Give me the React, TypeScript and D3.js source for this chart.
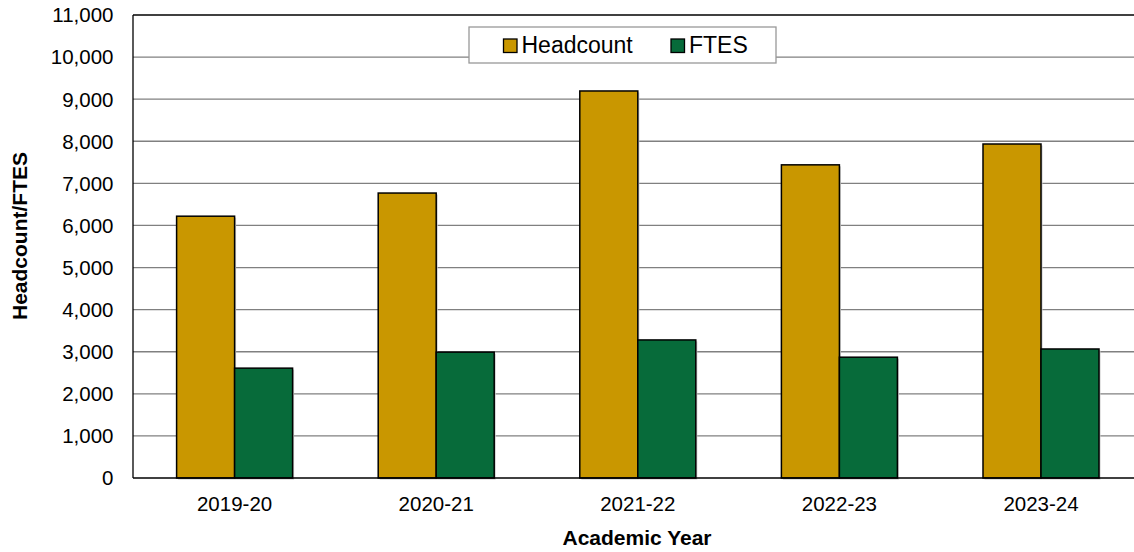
import React from "react";
import * as d3 from "d3";

const categories = ["2019-20", "2020-21", "2021-22", "2022-23", "2023-24"];
const headcount = [6220, 6770, 9195, 7440, 7935];
const ftes = [2610, 2990, 3280, 2870, 3065];
const seriesNames = ["Headcount", "FTES"];
const seriesColors = ["#C99700", "#076B3A"];
const yTicks = [0, 1000, 2000, 3000, 4000, 5000, 6000, 7000, 8000, 9000, 10000, 11000];

export default function App() {
  const W = 1134, H = 552;
  const left = 133, top = 15, bottom = 478;
  const x = d3.scaleBand<string>().domain(categories).range([133.8, 1141.8]).paddingInner(0).paddingOuter(0);
  const y = d3.scaleLinear().domain([0, 11000]).range([bottom, top]);
  const barW = 58;
  const fmt = d3.format(",");
  const font = "Liberation Sans, Arial, sans-serif";
  const series = [headcount, ftes];

  return (
    <svg width={W} height={H} style={{ position: "absolute", left: 0, top: 0, background: "#fff" }} fontFamily={font}>
      {yTicks.filter(t => t > 0 && t < 11000).map(t => (
        <line key={t} x1={left} x2={W} y1={y(t)} y2={y(t)} stroke="#808080" strokeWidth={1.3} />
      ))}
      <line x1={left} x2={W} y1={y(11000)} y2={y(11000)} stroke="#000" strokeWidth={1.3} />
      {categories.map((c, i) => {
        const cx = (x(c) as number) + x.bandwidth() / 2;
        return series.map((s, si) => {
          const x0 = cx - barW + si * barW;
          return (
            <g key={c + si}>
              <rect x={x0 + 1.5} y={y(s[i]) + 1.5} width={barW} height={bottom - y(s[i])} fill="#c8c8c8" />
              <rect x={x0} y={y(s[i])} width={barW} height={bottom - y(s[i])} fill={seriesColors[si]} stroke="#000" strokeWidth={1.5} />
            </g>
          );
        });
      })}
      <line x1={left} x2={left} y1={top} y2={bottom} stroke="#000" strokeWidth={1.3} />
      <line x1={left} x2={W} y1={bottom} y2={bottom} stroke="#000" strokeWidth={1.5} />
      {yTicks.map(t => (
        <text key={t} x={113.5} y={y(t)} dy="0.36em" textAnchor="end" fontSize={20.5} fill="#000">{fmt(t)}</text>
      ))}
      {categories.map(c => (
        <text key={c} x={(x(c) as number) + x.bandwidth() / 2} y={511} textAnchor="middle" fontSize={20.5} fill="#000">{c}</text>
      ))}
      <text x={637} y={545} textAnchor="middle" fontSize={21} fontWeight="bold" fill="#000">Academic Year</text>
      <text transform={`translate(27,236) rotate(-90)`} textAnchor="middle" fontSize={21} fontWeight="bold" fill="#000">Headcount/FTES</text>
      <g>
        <rect x={469} y={27} width={307} height={36} fill="#fff" stroke="#999" strokeWidth={1.3} />
        {seriesNames.map((n, i) => {
          const sx = i === 0 ? 503.5 : 671;
          return (
            <g key={n}>
              <rect x={sx} y={39} width={13.5} height={13.5} fill={seriesColors[i]} stroke="#000" strokeWidth={1.3} />
              <text x={sx + 18} y={52.5} fontSize={23} fill="#000">{n}</text>
            </g>
          );
        })}
      </g>
    </svg>
  );
}
